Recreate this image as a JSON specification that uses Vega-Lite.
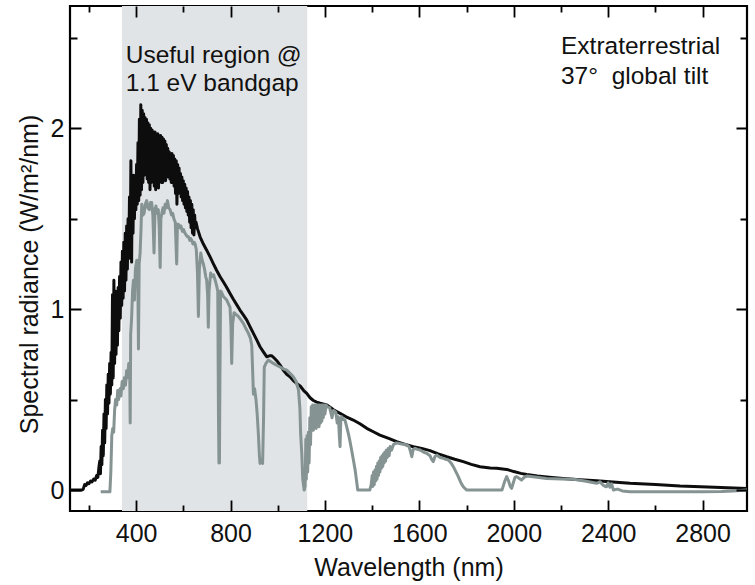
{
  "$schema": "https://vega.github.io/schema/vega-lite/v6.json",
  "width": 677,
  "height": 505,
  "autosize": "none",
  "padding": {"left": 70, "top": 6, "right": 8, "bottom": 74},
  "background": "white",
  "config": {
    "view": {"stroke": "#000", "strokeWidth": 2.2},
    "axis": {
      "domain": false,
      "labelFont": "Liberation Sans", "labelFontSize": 25, "labelColor": "#111",
      "titleFont": "Liberation Sans", "titleFontSize": 25, "titleFontWeight": "normal", "titleColor": "#111"
    }
  },
  "datasets": {
    "region": [{"start": 340, "end": 1125}],
    "notesL": [
      {"wl": 356, "val": 2.359, "label": "Useful region @"},
      {"wl": 356, "val": 2.207, "label": "1.1 eV bandgap"}
    ],
    "notesR": [
      {"wl": 2200, "val": 2.413, "label": "Extraterrestrial"},
      {"wl": 2200, "val": 2.247, "label": "37°\u00a0 global tilt"}
    ],
    "black": [
      {"wl":120,"val":0},{"wl":170,"val":0},{"wl":176,"val":0.005},{"wl":182,"val":0.03},{"wl":188,"val":0.025},{"wl":194,"val":0.04},{"wl":200,"val":0.035},{"wl":207,"val":0.05},{"wl":213,"val":0.045},{"wl":220,"val":0.06},{"wl":227,"val":0.055},{"wl":233,"val":0.08},{"wl":238,"val":0.07},{"wl":243,"val":0.13},
      {"wl":246,"val":0.16},{"wl":249,"val":0.09},{"wl":252,"val":0.24},{"wl":255,"val":0.14},{"wl":258,"val":0.33},{"wl":261,"val":0.19},{"wl":264,"val":0.42},{"wl":267,"val":0.26},{"wl":270,"val":0.50},{"wl":273,"val":0.34},{"wl":276,"val":0.58},{"wl":279,"val":0.42},{"wl":282,"val":0.64},{"wl":285,"val":0.48},{"wl":288,"val":0.70},{"wl":291,"val":0.53},{"wl":294,"val":0.76},{"wl":297,"val":0.58},
      {"wl":300,"val":1.08},{"wl":303,"val":0.62},{"wl":306,"val":1.16},{"wl":309,"val":0.70},{"wl":312,"val":1.10},{"wl":315,"val":0.75},{"wl":318,"val":1.06},{"wl":321,"val":0.80},{"wl":324,"val":1.12},{"wl":327,"val":0.88},{"wl":330,"val":1.18},{"wl":333,"val":0.95},{"wl":336,"val":1.26},{"wl":339,"val":1.02},{"wl":342,"val":1.32},{"wl":345,"val":1.06},{"wl":348,"val":1.37},{"wl":351,"val":1.10},{"wl":354,"val":1.42},{"wl":357,"val":1.16},{"wl":360,"val":1.46},{"wl":363,"val":1.22},{"wl":366,"val":1.50},{"wl":369,"val":1.28},{"wl":372,"val":1.62},{"wl":375,"val":1.30},{"wl":378,"val":1.82},{"wl":381,"val":1.26},{"wl":384,"val":1.74},{"wl":387,"val":1.42},{"wl":390,"val":1.74},{"wl":393,"val":1.50},{"wl":396,"val":1.72},{"wl":399,"val":1.55},
      {"wl":402,"val":1.80},{"wl":405,"val":1.58},{"wl":408,"val":1.92},{"wl":411,"val":1.60},{"wl":414,"val":2.05},{"wl":417,"val":1.63},{"wl":420,"val":2.13},{"wl":423,"val":1.66},{"wl":426,"val":2.10},{"wl":429,"val":1.70},{"wl":432,"val":2.08},{"wl":435,"val":1.74},{"wl":438,"val":2.06},{"wl":441,"val":1.76},{"wl":444,"val":2.05},{"wl":447,"val":1.72},{"wl":450,"val":2.03},{"wl":453,"val":1.70},{"wl":456,"val":2.02},{"wl":459,"val":1.66},{"wl":462,"val":2.00},{"wl":465,"val":1.70},{"wl":468,"val":1.99},{"wl":471,"val":1.72},{"wl":474,"val":1.98},{"wl":477,"val":1.68},{"wl":480,"val":1.98},{"wl":483,"val":1.66},{"wl":486,"val":1.97},{"wl":489,"val":1.70},{"wl":492,"val":1.97},{"wl":495,"val":1.67},{"wl":498,"val":1.96},
      {"wl":501,"val":1.72},{"wl":504,"val":1.96},{"wl":507,"val":1.70},{"wl":510,"val":1.95},{"wl":513,"val":1.70},{"wl":516,"val":1.94},{"wl":519,"val":1.72},{"wl":522,"val":1.93},{"wl":525,"val":1.71},{"wl":528,"val":1.91},{"wl":531,"val":1.73},{"wl":534,"val":1.89},{"wl":537,"val":1.74},{"wl":540,"val":1.87},{"wl":543,"val":1.72},{"wl":546,"val":1.86},{"wl":549,"val":1.70},{"wl":552,"val":1.86},{"wl":555,"val":1.70},{"wl":558,"val":1.85},{"wl":561,"val":1.68},{"wl":564,"val":1.83},{"wl":567,"val":1.64},{"wl":570,"val":1.82},{"wl":573,"val":1.58},{"wl":576,"val":1.80},{"wl":579,"val":1.64},{"wl":582,"val":1.78},{"wl":585,"val":1.65},{"wl":588,"val":1.75},{"wl":591,"val":1.62},{"wl":594,"val":1.73},{"wl":597,"val":1.60},
      {"wl":600,"val":1.71},{"wl":603,"val":1.58},{"wl":606,"val":1.69},{"wl":609,"val":1.56},{"wl":612,"val":1.67},{"wl":615,"val":1.54},{"wl":618,"val":1.65},{"wl":621,"val":1.52},{"wl":624,"val":1.62},{"wl":627,"val":1.48},{"wl":630,"val":1.60},{"wl":633,"val":1.45},{"wl":636,"val":1.58},{"wl":639,"val":1.42},{"wl":642,"val":1.55},{"wl":645,"val":1.41},{"wl":648,"val":1.52},{"wl":651,"val":1.45},{"wl":654,"val":1.48},
      {"wl":660,"val":1.445},{"wl":671,"val":1.40},{"wl":685,"val":1.36},{"wl":699,"val":1.326},{"wl":713,"val":1.29},{"wl":727,"val":1.252},{"wl":741,"val":1.215},{"wl":756,"val":1.179},{"wl":770,"val":1.15},{"wl":784,"val":1.12},{"wl":798,"val":1.087},{"wl":812,"val":1.055},{"wl":826,"val":1.025},{"wl":840,"val":0.995},{"wl":855,"val":0.967},{"wl":869,"val":0.939},{"wl":883,"val":0.902},{"wl":897,"val":0.866},{"wl":911,"val":0.83},{"wl":925,"val":0.792},{"wl":940,"val":0.762},{"wl":953,"val":0.737},{"wl":965,"val":0.742},{"wl":975,"val":0.742},{"wl":985,"val":0.73},{"wl":996,"val":0.715},
      {"wl":1010,"val":0.691},{"wl":1025,"val":0.66},{"wl":1038,"val":0.64},{"wl":1052,"val":0.626},{"wl":1066,"val":0.605},{"wl":1080,"val":0.589},{"wl":1095,"val":0.575},{"wl":1110,"val":0.55},{"wl":1123,"val":0.534},{"wl":1137,"val":0.51},{"wl":1151,"val":0.495},{"wl":1165,"val":0.486},{"wl":1180,"val":0.48},{"wl":1195,"val":0.475},{"wl":1208,"val":0.47},{"wl":1225,"val":0.455},{"wl":1240,"val":0.44},{"wl":1264,"val":0.424},{"wl":1290,"val":0.405},{"wl":1320,"val":0.387},{"wl":1350,"val":0.365},{"wl":1377,"val":0.341},{"wl":1405,"val":0.322},{"wl":1433,"val":0.304},{"wl":1470,"val":0.285},
      {"wl":1504,"val":0.267},{"wl":1540,"val":0.252},{"wl":1575,"val":0.239},{"wl":1610,"val":0.23},{"wl":1645,"val":0.218},{"wl":1680,"val":0.2},{"wl":1716,"val":0.184},{"wl":1750,"val":0.17},{"wl":1786,"val":0.157},{"wl":1820,"val":0.142},{"wl":1857,"val":0.129},{"wl":1900,"val":0.122},{"wl":1928,"val":0.12},{"wl":1970,"val":0.114},{"wl":2000,"val":0.102},{"wl":2030,"val":0.092},{"wl":2055,"val":0.086},{"wl":2100,"val":0.078},{"wl":2150,"val":0.071},{"wl":2210,"val":0.064},{"wl":2280,"val":0.057},{"wl":2351,"val":0.051},{"wl":2420,"val":0.044},{"wl":2492,"val":0.037},{"wl":2600,"val":0.03},{"wl":2704,"val":0.022},{"wl":2850,"val":0.015},{"wl":2988,"val":0.009}
    ],
    "gray": [
      {"wl":250,"val":-0.01},{"wl":289,"val":-0.01},{"wl":293,"val":0.10},{"wl":297,"val":0.30},{"wl":301,"val":0.34},{"wl":305,"val":0.32},{"wl":309,"val":0.44},{"wl":313,"val":0.50},{"wl":318,"val":0.47},{"wl":322,"val":0.55},{"wl":326,"val":0.50},{"wl":332,"val":0.56},{"wl":336,"val":0.52},{"wl":341,"val":0.60},{"wl":346,"val":0.56},{"wl":350,"val":0.62},{"wl":355,"val":0.58},{"wl":360,"val":0.66},{"wl":364,"val":0.62},{"wl":369,"val":0.70},{"wl":373,"val":0.66},{"wl":375,"val":0.37},{"wl":377,"val":0.86},{"wl":381,"val":0.95},{"wl":385,"val":1.10},{"wl":389,"val":1.16},{"wl":393,"val":1.05},{"wl":397,"val":1.22},
      {"wl":403,"val":1.27},{"wl":407,"val":1.20},{"wl":410,"val":0.78},{"wl":413,"val":1.25},{"wl":417,"val":1.31},{"wl":421,"val":1.45},{"wl":424,"val":1.58},{"wl":429,"val":1.52},{"wl":434,"val":1.53},{"wl":439,"val":1.58},{"wl":445,"val":1.60},{"wl":450,"val":1.56},{"wl":456,"val":1.55},{"wl":461,"val":1.59},{"wl":466,"val":1.59},{"wl":471,"val":1.52},{"wl":476,"val":1.31},{"wl":480,"val":1.55},{"wl":484,"val":1.57},{"wl":489,"val":1.53},{"wl":494,"val":1.55},{"wl":498,"val":1.45},
      {"wl":502,"val":1.23},{"wl":505,"val":1.50},{"wl":509,"val":1.53},{"wl":514,"val":1.56},{"wl":518,"val":1.53},{"wl":523,"val":1.58},{"wl":528,"val":1.56},{"wl":533,"val":1.60},{"wl":538,"val":1.56},{"wl":544,"val":1.55},{"wl":550,"val":1.52},{"wl":555,"val":1.53},{"wl":560,"val":1.50},{"wl":566,"val":1.48},{"wl":572,"val":1.25},{"wl":575,"val":1.47},{"wl":579,"val":1.47},{"wl":585,"val":1.45},{"wl":590,"val":1.46},{"wl":596,"val":1.43},
      {"wl":601,"val":1.44},{"wl":607,"val":1.42},{"wl":612,"val":1.41},{"wl":618,"val":1.40},{"wl":622,"val":1.40},{"wl":628,"val":1.38},{"wl":632,"val":1.39},{"wl":636,"val":1.38},{"wl":641,"val":1.36},{"wl":646,"val":1.37},{"wl":650,"val":1.36},{"wl":655,"val":1.33},{"wl":660,"val":1.20},{"wl":664,"val":0.96},{"wl":668,"val":1.22},{"wl":674,"val":1.31},{"wl":680,"val":1.27},{"wl":685,"val":1.25},{"wl":690,"val":1.22},{"wl":695,"val":1.18},{"wl":699,"val":1.16},
      {"wl":703,"val":1.08},{"wl":706,"val":0.90},{"wl":709,"val":1.10},{"wl":716,"val":1.20},{"wl":722,"val":1.18},{"wl":728,"val":1.19},{"wl":735,"val":1.16},{"wl":741,"val":1.13},{"wl":746,"val":1.10},{"wl":749,"val":0.40},{"wl":751,"val":0.15},{"wl":753,"val":0.15},{"wl":755,"val":0.60},{"wl":758,"val":1.10},{"wl":763,"val":1.09},{"wl":770,"val":1.07},{"wl":777,"val":1.06},{"wl":784,"val":1.05},{"wl":791,"val":1.03},{"wl":798,"val":1.01},
      {"wl":802,"val":0.90},{"wl":805,"val":0.70},{"wl":809,"val":0.92},{"wl":815,"val":0.98},{"wl":824,"val":0.97},{"wl":833,"val":0.96},{"wl":844,"val":0.94},{"wl":855,"val":0.92},{"wl":866,"val":0.89},{"wl":876,"val":0.866},{"wl":884,"val":0.84},{"wl":890,"val":0.80},{"wl":894,"val":0.65},{"wl":897,"val":0.53},
      {"wl":902,"val":0.56},{"wl":908,"val":0.50},{"wl":913,"val":0.42},{"wl":918,"val":0.31},{"wl":922,"val":0.20},{"wl":925,"val":0.147},{"wl":930,"val":0.16},{"wl":936,"val":0.147},{"wl":940,"val":0.40},{"wl":943,"val":0.68},{"wl":950,"val":0.70},{"wl":960,"val":0.718},{"wl":970,"val":0.71},{"wl":982,"val":0.70},{"wl":995,"val":0.69},
      {"wl":1010,"val":0.68},{"wl":1024,"val":0.67},{"wl":1038,"val":0.663},{"wl":1052,"val":0.645},{"wl":1066,"val":0.626},{"wl":1078,"val":0.60},{"wl":1088,"val":0.553},{"wl":1094,"val":0.45},{"wl":1097,"val":0.313},{"wl":1102,"val":0.20},{"wl":1106,"val":0.06},{"wl":1112,"val":0.0},{"wl":1116,"val":0.02},
      {"wl":1119,"val":0.28},{"wl":1121,"val":0.06},{"wl":1124,"val":0.30},{"wl":1127,"val":0.10},{"wl":1130,"val":0.32},{"wl":1133,"val":0.15},{"wl":1136,"val":0.40},{"wl":1139,"val":0.25},{"wl":1142,"val":0.46},
      {"wl":1145,"val":0.34},{"wl":1148,"val":0.47},{"wl":1151,"val":0.33},{"wl":1154,"val":0.47},{"wl":1157,"val":0.35},{"wl":1160,"val":0.47},{"wl":1163,"val":0.34},{"wl":1166,"val":0.47},{"wl":1169,"val":0.36},{"wl":1172,"val":0.47},{"wl":1175,"val":0.35},{"wl":1178,"val":0.47},{"wl":1181,"val":0.37},{"wl":1184,"val":0.47},{"wl":1187,"val":0.38},{"wl":1190,"val":0.47},{"wl":1193,"val":0.40},{"wl":1196,"val":0.47},
      {"wl":1200,"val":0.42},{"wl":1205,"val":0.47},{"wl":1210,"val":0.46},{"wl":1220,"val":0.455},{"wl":1230,"val":0.40},{"wl":1236,"val":0.44},{"wl":1246,"val":0.43},{"wl":1252,"val":0.37},{"wl":1257,"val":0.405},{"wl":1261,"val":0.30},{"wl":1264,"val":0.24},{"wl":1267,"val":0.38},{"wl":1271,"val":0.405},{"wl":1278,"val":0.39},{"wl":1285,"val":0.387},{"wl":1292,"val":0.35},{"wl":1299,"val":0.313},
      {"wl":1306,"val":0.27},{"wl":1313,"val":0.221},{"wl":1320,"val":0.17},{"wl":1328,"val":0.11},{"wl":1334,"val":0.05},{"wl":1339,"val":0.0},{"wl":1390,"val":0.0},{"wl":1396,"val":0.03},
      {"wl":1400,"val":0.08},{"wl":1403,"val":0.02},{"wl":1406,"val":0.10},{"wl":1409,"val":0.03},{"wl":1412,"val":0.11},{"wl":1415,"val":0.05},{"wl":1418,"val":0.13},{"wl":1421,"val":0.06},{"wl":1424,"val":0.15},{"wl":1427,"val":0.08},{"wl":1430,"val":0.16},{"wl":1433,"val":0.10},{"wl":1436,"val":0.18},{"wl":1439,"val":0.12},{"wl":1442,"val":0.19},{"wl":1445,"val":0.13},{"wl":1448,"val":0.20},{"wl":1451,"val":0.15},{"wl":1454,"val":0.21},{"wl":1457,"val":0.16},{"wl":1460,"val":0.22},{"wl":1464,"val":0.18},{"wl":1468,"val":0.23},{"wl":1472,"val":0.19},{"wl":1476,"val":0.24},{"wl":1482,"val":0.22},{"wl":1490,"val":0.25},
      {"wl":1500,"val":0.26},{"wl":1511,"val":0.258},{"wl":1525,"val":0.255},{"wl":1546,"val":0.249},{"wl":1556,"val":0.24},{"wl":1562,"val":0.215},{"wl":1568,"val":0.184},{"wl":1574,"val":0.225},{"wl":1582,"val":0.23},{"wl":1592,"val":0.225},{"wl":1603,"val":0.221},{"wl":1617,"val":0.21},{"wl":1631,"val":0.203},{"wl":1645,"val":0.19},{"wl":1652,"val":0.17},{"wl":1659,"val":0.157},{"wl":1666,"val":0.185},{"wl":1673,"val":0.193},{"wl":1688,"val":0.18},
      {"wl":1702,"val":0.175},{"wl":1712,"val":0.17},{"wl":1723,"val":0.166},{"wl":1734,"val":0.15},{"wl":1744,"val":0.129},{"wl":1755,"val":0.10},{"wl":1765,"val":0.074},{"wl":1776,"val":0.04},{"wl":1786,"val":0.018},{"wl":1800,"val":0.0},{"wl":1950,"val":0.0},{"wl":1955,"val":0.02},{"wl":1962,"val":0.05},{"wl":1970,"val":0.074},{"wl":1978,"val":0.05},{"wl":1985,"val":0.02},{"wl":1991,"val":0.009},{"wl":1998,"val":0.04},
      {"wl":2005,"val":0.07},{"wl":2012,"val":0.074},{"wl":2022,"val":0.065},{"wl":2033,"val":0.055},{"wl":2044,"val":0.07},{"wl":2055,"val":0.077},{"wl":2090,"val":0.072},{"wl":2139,"val":0.064},{"wl":2200,"val":0.061},{"wl":2252,"val":0.059},{"wl":2300,"val":0.05},{"wl":2340,"val":0.04},{"wl":2351,"val":0.037},{"wl":2365,"val":0.045},{"wl":2380,"val":0.025},{"wl":2393,"val":0.018},{"wl":2400,"val":0.04},{"wl":2407,"val":0.015},{"wl":2414,"val":0.035},{"wl":2422,"val":0.0},{"wl":2440,"val":0.005},{"wl":2460,"val":-0.005},{"wl":2492,"val":-0.01},
      {"wl":2700,"val":-0.01},{"wl":2800,"val":-0.01},{"wl":2880,"val":-0.008},{"wl":2930,"val":-0.005},{"wl":2988,"val":0.0}
    ]
  },
  "layer": [
    {
      "data": {"name": "region"},
      "mark": {"type": "rect", "color": "#e1e4e6"},
      "encoding": {
        "x": {"field": "start", "type": "quantitative", "scale": {"domain": [120, 2988], "nice": false, "zero": false},
              "axis": {"orient": "top", "values": [200, 600, 1000, 1400, 1800, 2200, 2600],
                       "ticks": false, "tickSize": 0, "labels": false, "title": null, "zindex": 1,
                       "grid": true, "gridColor": "black", "gridOpacity": 1, "gridWidth": 1.8, "gridDash": [6, 493, 6, 1000]}},
        "x2": {"field": "end"}
      }
    },
    {
      "data": {"name": "black"},
      "mark": {"type": "line", "color": "#0d0d0d", "strokeWidth": 3, "strokeJoin": "round"},
      "encoding": {
        "x": {"field": "wl", "type": "quantitative", "scale": {"domain": [120, 2988], "nice": false, "zero": false},
              "axis": {"orient": "bottom", "values": [400, 800, 1200, 1600, 2000, 2400, 2800], "format": "d",
                       "ticks": false, "tickSize": 0, "labelPadding": 10, "zindex": 1,
                       "grid": true, "gridColor": "black", "gridOpacity": 1, "gridWidth": 1.8, "gridDash": [11, 483, 11, 1000],
                       "title": "Wavelength (nm)", "titleY": 64, "titleBaseline": "alphabetic"}},
        "y": {"field": "val", "type": "quantitative", "scale": {"domain": [-0.116, 2.676], "nice": false, "zero": false},
              "axis": {"orient": "left", "values": [0, 1, 2], "format": "d",
                       "ticks": false, "tickSize": 0, "labelPadding": 6, "zindex": 1,
                       "grid": true, "gridColor": "black", "gridOpacity": 1, "gridWidth": 1.8, "gridDash": [11, 655, 11, 1000],
                       "title": "Spectral radiance (W/m²/nm)", "titleX": -33, "titleY": 268, "titleBaseline": "alphabetic", "titleAngle": -90, "titleAlign": "center"}}
      }
    },
    {
      "data": {"name": "gray"},
      "mark": {"type": "line", "color": "#869393", "strokeWidth": 3, "strokeJoin": "round"},
      "encoding": {
        "x": {"field": "wl", "type": "quantitative", "scale": {"domain": [120, 2988], "nice": false, "zero": false}, "axis": null},
        "y": {"field": "val", "type": "quantitative", "scale": {"domain": [-0.116, 2.676], "nice": false, "zero": false},
              "axis": {"orient": "right", "values": [0.5, 1.5, 2.5],
                       "ticks": false, "tickSize": 0, "labels": false, "title": null, "zindex": 1,
                       "grid": true, "gridColor": "black", "gridOpacity": 1, "gridWidth": 1.8, "gridDash": [7, 663, 7, 1000]}}
      }
    },
    {
      "data": {"name": "notesL"},
      "mark": {"type": "text", "align": "left", "baseline": "alphabetic", "font": "Liberation Sans", "fontSize": 24.5, "color": "#111"},
      "encoding": {
        "x": {"field": "wl", "type": "quantitative", "scale": {"domain": [120, 2988], "nice": false, "zero": false}, "axis": null},
        "y": {"field": "val", "type": "quantitative", "scale": {"domain": [-0.116, 2.676], "nice": false, "zero": false}, "axis": null},
        "text": {"field": "label"}
      }
    },
    {
      "data": {"name": "notesR"},
      "mark": {"type": "text", "align": "left", "baseline": "alphabetic", "font": "Liberation Sans", "fontSize": 24.5, "color": "#111"},
      "encoding": {
        "x": {"field": "wl", "type": "quantitative", "scale": {"domain": [120, 2988], "nice": false, "zero": false}, "axis": null},
        "y": {"field": "val", "type": "quantitative", "scale": {"domain": [-0.116, 2.676], "nice": false, "zero": false}, "axis": null},
        "text": {"field": "label"}
      }
    }
  ],
  "resolve": {"axis": {"x": "independent", "y": "independent"}}
}
